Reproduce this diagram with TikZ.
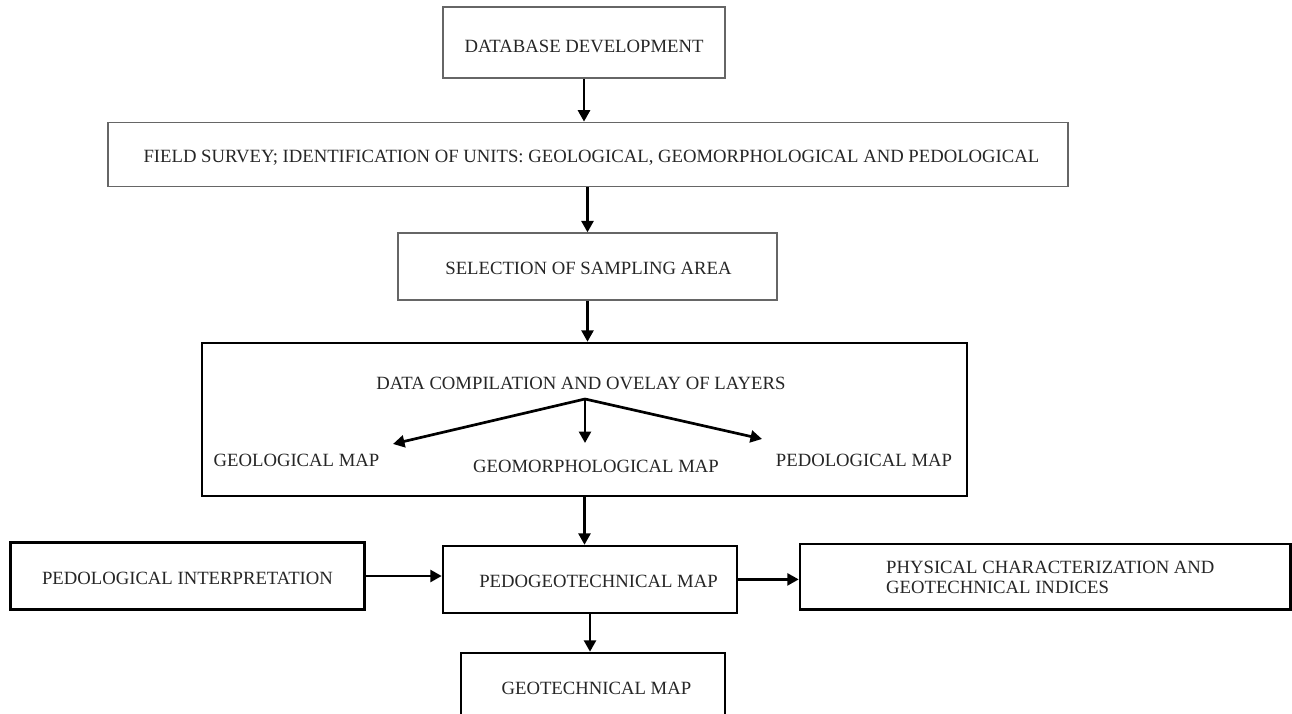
\documentclass[tikz,border=0pt]{standalone}
\usepackage{fontspec}
\setmainfont{Liberation Serif}
\usetikzlibrary{arrows.meta,calc}
\begin{document}
\begin{tikzpicture}[x=1pt,y=-1pt,
  txt/.style={font=\fontsize{18.7}{20.7}\selectfont, text=black!85},
  thinbox/.style={txt, draw=black!60, line width=1.3pt, inner sep=0pt, text height=16.4pt, text depth=0pt},
  thickbox/.style={txt, draw=black, line width=2.5pt, inner sep=0pt, text height=16.4pt, text depth=0pt},
  lbl/.style={txt, inner sep=0pt, text height=12.4pt, text depth=0pt},
  arr/.style={line width=2.7pt, -{Triangle[length=11.5pt,width=12pt]}},
]
\useasboundingbox (0,0) rectangle (1292,714);
\fill[white] (0,0) rectangle (1292,714);

\node[thinbox, minimum width=282pt, minimum height=71pt, text height=19.2pt] (db) at (584,42.5) {DATABASE DEVELOPMENT};
\node[thinbox, minimum width=960pt, minimum height=64.4pt, text height=15.4pt] (fs) at (588,154.5) {\hspace*{7pt}FIELD SURVEY; IDENTIFICATION OF UNITS: GEOLOGICAL, GEOMORPHOLOGICAL AND PEDOLOGICAL};
\node[thinbox, minimum width=379pt, minimum height=67pt, text height=15.4pt] (sel) at (587.5,266.5) {\hspace*{2pt}SELECTION OF SAMPLING AREA};
\node[thickbox, minimum width=765pt, minimum height=153pt] (dc) at (584.5,419.5) {};
\node[lbl] (dct) at (581,383.5) {DATA COMPILATION AND OVELAY OF LAYERS};
\node[lbl] (geo) at (296.5,460.5) {GEOLOGICAL MAP};
\node[lbl] (gmo) at (596,466.5) {GEOMORPHOLOGICAL MAP};
\node[lbl] (ped) at (864,460.5) {PEDOLOGICAL MAP};
\coordinate (fork) at (585,399);
\coordinate (tl) at (393,444);
\coordinate (tm) at (585,443);
\coordinate (tr) at (762,439);

\node[thickbox, minimum width=353.6pt, minimum height=66.6pt, text height=17pt] (pi) at (187.5,576) {PEDOLOGICAL INTERPRETATION};
\node[thickbox, minimum width=294pt, minimum height=66.7pt, text height=15.6pt] (pg) at (590,579.4) {\hspace*{17pt}PEDOGEOTECHNICAL MAP};
\node[thickbox, minimum width=490.5pt, minimum height=65.3pt] (pc) at (1045.25,576.7) {};
\node[txt, align=left, anchor=west, inner sep=0pt] (pct) at (886,577.5) {PHYSICAL CHARACTERIZATION AND\\GEOTECHNICAL INDICES};
\node[thickbox, minimum width=264.3pt, minimum height=71pt, text height=12.4pt] (gm) at (592.9,688.5) {\hspace*{7pt}GEOTECHNICAL MAP};

\draw[arr] (db.south) -- (db.south |- fs.north);
\draw[arr] (sel.north |- fs.south) -- (sel.north);
\draw[arr] (sel.south) -- (sel.south |- dc.north);
\draw[arr] (fork) -- (tl);
\draw[arr] (fork) -- (tm);
\draw[arr] (fork) -- (tr);
\draw[arr] (dc.south) -- (dc.south |- pg.north);
\draw[arr] (pi.east) -- (pi.east -| pg.west);
\draw[arr] (pg.east) -- (pg.east -| pc.west);
\draw[arr] (pg.south) -- (pg.south |- gm.north);
\end{tikzpicture}
\end{document}
